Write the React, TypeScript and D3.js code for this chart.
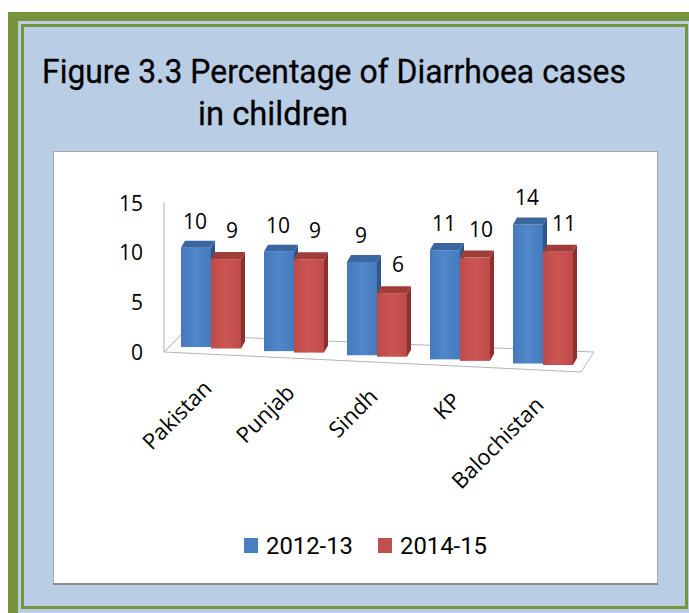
import React from "react";
import * as d3 from "d3";

const categories = ["Pakistan", "Punjab", "Sindh", "KP", "Balochistan"];
const seriesNames = ["2012-13", "2014-15"];
const values2012 = [10.0, 10.0, 9.4, 11.0, 14.0];
const values2014 = [9.0, 9.4, 6.4, 10.4, 11.4];
const yTicks = [0, 5, 10, 15];
const titleLines = ["Figure 3.3 Percentage of Diarrhoea cases", "in children"];

const seriesValues = [values2012, values2014];
const frontColors = ["#4a7ebf", "#c0504d"];
const topColors = ["#3a67a0", "#a03c39"];
const sideColors = ["#2f5689", "#8a302e"];

const W = 689;
const H = 613;
const GREEN = "#77933c";
const LIGHTBLUE = "#b9cde5";
const LABEL_FONT = "'Open Sans', 'DejaVu Sans', sans-serif";
const NARROW_FONT = "'Liberation Sans Narrow', 'Roboto', 'Liberation Sans', sans-serif";

export default function App() {
  const x0 = d3
    .scaleBand<string>()
    .domain(categories)
    .range([169.5, 584.5])
    .paddingInner(0.277)
    .paddingOuter(0.1385);
  const x1 = d3.scaleBand<string>().domain(seriesNames).range([0, x0.bandwidth()]);
  const y = d3.scaleLinear().domain([0, 15]).range([352, 203]);
  const base = d3.scaleLinear().domain([196, 558]).range([347, 365]);
  const dx = 4;
  const dy = -7;

  const bars: any[] = [];
  categories.forEach((c, ci) => {
    seriesNames.forEach((s, si) => {
      const v = seriesValues[si][ci];
      const xl = (x0(c) as number) + (x1(s) as number);
      const w = x1.bandwidth();
      const xc = xl + w / 2;
      const b = base(xc);
      const h = y(0) - y(v);
      const t = b - h;
      bars.push({ c, s, si, v, xl, w, xc, b, t });
    });
  });

  const floorPts = [
    [164, 352],
    [181, 335],
    [594, 352],
    [581, 372],
  ];

  return (
    <svg
      width={W}
      height={H}
      style={{ position: "absolute", left: 0, top: 0, display: "block" }}
    >
      <defs>
        <linearGradient id="gBlue" x1="0" x2="1" y1="0" y2="0">
          <stop offset="0" stopColor="#4579bb" />
          <stop offset="0.5" stopColor="#5088cc" />
          <stop offset="1" stopColor="#4579bb" />
        </linearGradient>
        <linearGradient id="gRed" x1="0" x2="1" y1="0" y2="0">
          <stop offset="0" stopColor="#bd4b48" />
          <stop offset="0.5" stopColor="#cc5552" />
          <stop offset="1" stopColor="#bd4b48" />
        </linearGradient>
      </defs>
      <rect x={0} y={0} width={W} height={H} fill="#ffffff" />
      {/* frame */}
      <rect x={8} y={12} width={W + 20} height={H + 20} fill={GREEN} />
      <rect x={18} y={21} width={W + 20} height={H + 20} fill={LIGHTBLUE} />
      <rect
        x={22.5}
        y={25.5}
        width={664}
        height={582}
        fill={LIGHTBLUE}
        stroke={GREEN}
        strokeWidth={3}
      />
      {/* title */}
      <text
        x={42}
        y={83}
        fontFamily={NARROW_FONT}
        fontSize={34}
        fill="#000"
        stroke="#000"
        strokeWidth={0.3}
        textLength={584}
        lengthAdjust="spacingAndGlyphs"
      >
        {titleLines[0]}
      </text>
      <text
        x={198}
        y={125}
        fontFamily={NARROW_FONT}
        fontSize={34}
        fill="#000"
        stroke="#000"
        strokeWidth={0.3}
        textLength={150}
        lengthAdjust="spacingAndGlyphs"
      >
        {titleLines[1]}
      </text>
      {/* white chart panel */}
      <rect x={53.5} y={151.5} width={604} height={432} fill="#ffffff" stroke="#a6a6a6" strokeWidth={1} />
      <line x1={53} x2={658} y1={584} y2={584} stroke="#8c8c8c" strokeWidth={2} />

      {/* floor and axis */}
      <polygon
        points={floorPts.map((p) => p.join(",")).join(" ")}
        fill="#ffffff"
        stroke="#b3b3b3"
        strokeWidth={1}
      />
      <line x1={164} x2={164} y1={y(15) - 1} y2={y(0)} stroke="#b3b3b3" strokeWidth={1} />

      {/* y tick labels */}
      {yTicks.map((t) => (
        <text
          key={t}
          x={143}
          y={y(t)}
          dy="0.36em"
          textAnchor="end"
          fontFamily={LABEL_FONT}
          fontSize={21}
          fill="#000"
        >
          {t}
        </text>
      ))}

      {/* bars */}
      {bars.map((d, i) => (
        <g key={i}>
          <polygon
            points={`${d.xl + d.w},${d.t} ${d.xl + d.w + dx},${d.t + dy} ${d.xl + d.w + dx},${d.b + dy} ${d.xl + d.w},${d.b}`}
            fill={sideColors[d.si]}
          />
          <rect
            x={d.xl}
            y={d.t}
            width={d.w}
            height={d.b - d.t}
            fill={d.si === 0 ? "url(#gBlue)" : "url(#gRed)"}
          />
          <polygon
            points={`${d.xl},${d.t} ${d.xl + d.w},${d.t} ${d.xl + d.w + dx},${d.t + dy} ${d.xl + dx},${d.t + dy}`}
            fill={topColors[d.si]}
          />
        </g>
      ))}

      {/* value labels */}
      {bars.map((d, i) => (
        <text
          key={"v" + i}
          x={d.si === 0 ? d.xc - 1 : d.xc + 6}
          y={d.t + dy - (d.si === 0 ? 12 : 14)}
          textAnchor="middle"
          fontFamily={LABEL_FONT}
          fontSize={21}
          fill="#000"
        >
          {Math.round(d.v)}
        </text>
      ))}

      {/* category labels */}
      {categories.map((c) => {
        const cx = (x0(c) as number) + x0.bandwidth() / 2;
        const ex = cx + 2;
        const ey = base(cx) + 42;
        return (
          <text
            key={c}
            transform={`translate(${ex},${ey}) rotate(-45)`}
            textAnchor="end"
            fontFamily={LABEL_FONT}
            fontSize={22}
            fill="#000"
          >
            {c}
          </text>
        );
      })}

      {/* legend */}
      {seriesNames.map((s, i) => {
        const lx = 244 + i * 134;
        return (
          <g key={s}>
            <rect x={lx} y={538} width={14} height={15} fill={frontColors[i]} />
            <text
              x={lx + 22}
              y={554}
              fontFamily={NARROW_FONT}
              fontSize={24}
              fill="#000"
              textLength={87}
              lengthAdjust="spacingAndGlyphs"
            >
              {s}
            </text>
          </g>
        );
      })}
    </svg>
  );
}
